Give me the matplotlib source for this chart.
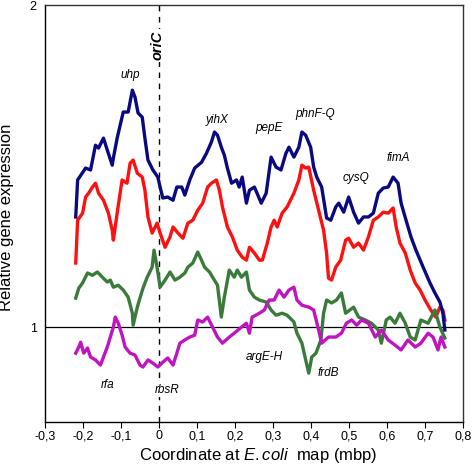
import matplotlib
matplotlib.use("Agg")
import matplotlib.pyplot as plt
import matplotlib.ticker as mticker

plt.rcParams['font.family'] = ['Liberation Sans', 'DejaVu Sans']
plt.rcParams['mathtext.fontset'] = 'custom'
plt.rcParams['mathtext.rm'] = 'Liberation Sans'
plt.rcParams['mathtext.it'] = 'Liberation Sans:italic'

# navy series
navy_x = [-0.219, -0.214, -0.193, -0.180, -0.167, -0.159, -0.146, -0.136, -0.123, -0.120,
          -0.110, -0.094, -0.081, -0.070, -0.063, -0.055, -0.044, -0.037, -0.029, -0.016,
          -0.003, 0.003, 0.010, 0.023, 0.037, 0.047, 0.060, 0.068, 0.081, 0.094,
          0.112, 0.125, 0.138, 0.146, 0.154, 0.164, 0.172, 0.180, 0.191, 0.204,
          0.211, 0.219, 0.230, 0.238, 0.251, 0.258, 0.269, 0.282, 0.295, 0.308,
          0.321, 0.334, 0.342, 0.355, 0.368, 0.376, 0.386, 0.399, 0.407, 0.415,
          0.428, 0.441, 0.452, 0.465, 0.473, 0.486, 0.499, 0.512, 0.525, 0.538,
          0.551, 0.564, 0.577, 0.590, 0.603, 0.616, 0.629, 0.637, 0.650, 0.663,
          0.676, 0.695, 0.713, 0.726, 0.739, 0.747, 0.752]
navy_y = [1.342, 1.457, 1.494, 1.488, 1.565, 1.556, 1.587, 1.550, 1.503, 1.525,
          1.587, 1.668, 1.668, 1.736, 1.714, 1.665, 1.652, 1.587, 1.519, 1.488,
          1.466, 1.435, 1.401, 1.404, 1.394, 1.435, 1.435, 1.410, 1.457, 1.494,
          1.512, 1.540, 1.575, 1.606, 1.596, 1.559, 1.534, 1.494, 1.447, 1.457,
          1.435, 1.466, 1.385, 1.425, 1.435, 1.416, 1.385, 1.416, 1.528, 1.497,
          1.488, 1.540, 1.559, 1.528, 1.559, 1.606, 1.596, 1.559, 1.497, 1.466,
          1.435, 1.339, 1.332, 1.373, 1.385, 1.357, 1.404, 1.357, 1.323, 1.342,
          1.342, 1.354, 1.416, 1.432, 1.435, 1.466, 1.447, 1.385, 1.332, 1.280,
          1.239, 1.186, 1.137, 1.106, 1.078, 1.043, 0.991]

# red series
red_x = [-0.219, -0.214, -0.201, -0.193, -0.185, -0.175, -0.167, -0.159, -0.146, -0.133,
         -0.123, -0.120, -0.110, -0.097, -0.084, -0.076, -0.068, -0.057, -0.044, -0.037,
         -0.029, -0.018, -0.005, 0.003, 0.016, 0.029, 0.037, 0.050, 0.063, 0.076,
         0.089, 0.102, 0.115, 0.128, 0.138, 0.151, 0.159, 0.167, 0.180, 0.193,
         0.206, 0.219, 0.230, 0.238, 0.251, 0.264, 0.272, 0.285, 0.295, 0.303,
         0.311, 0.324, 0.337, 0.355, 0.368, 0.376, 0.386, 0.394, 0.407, 0.420,
         0.433, 0.441, 0.446, 0.454, 0.465, 0.478, 0.491, 0.499, 0.512, 0.525,
         0.538, 0.551, 0.564, 0.577, 0.590, 0.603, 0.616, 0.624, 0.634, 0.648,
         0.661, 0.674, 0.687, 0.700, 0.715, 0.728, 0.739, 0.747, 0.752]
red_y = [1.199, 1.332, 1.354, 1.404, 1.416, 1.435, 1.447, 1.416, 1.394, 1.354,
         1.301, 1.270, 1.354, 1.457, 1.447, 1.509, 1.519, 1.478, 1.466, 1.425,
         1.342, 1.292, 1.323, 1.292, 1.248, 1.280, 1.311, 1.292, 1.276, 1.323,
         1.332, 1.363, 1.385, 1.435, 1.447, 1.457, 1.425, 1.373, 1.311, 1.280,
         1.239, 1.217, 1.208, 1.248, 1.230, 1.208, 1.208, 1.261, 1.311, 1.332,
         1.311, 1.354, 1.373, 1.416, 1.457, 1.503, 1.494, 1.497, 1.425, 1.363,
         1.301, 1.230, 1.152, 1.146, 1.186, 1.208, 1.270, 1.276, 1.248, 1.261,
         1.239, 1.280, 1.332, 1.342, 1.357, 1.354, 1.370, 1.311, 1.261, 1.230,
         1.177, 1.137, 1.115, 1.084, 1.053, 1.031, 1.062, 1.053, 1.022]

# green series
green_x = [-0.219, -0.211, -0.201, -0.188, -0.175, -0.162, -0.149, -0.136, -0.128, -0.120,
           -0.107, -0.094, -0.081, -0.070, -0.068, -0.057, -0.050, -0.042, -0.031, -0.018,
           -0.013, -0.005, 0.003, 0.016, 0.029, 0.042, 0.055, 0.068, 0.076, 0.089,
           0.102, 0.112, 0.120, 0.133, 0.141, 0.154, 0.164, 0.172, 0.185, 0.198,
           0.206, 0.217, 0.230, 0.238, 0.251, 0.264, 0.282, 0.295, 0.308, 0.324,
           0.337, 0.355, 0.363, 0.376, 0.386, 0.394, 0.402, 0.413, 0.426, 0.433,
           0.441, 0.454, 0.467, 0.480, 0.491, 0.512, 0.525, 0.543, 0.559, 0.577,
           0.585, 0.598, 0.608, 0.621, 0.634, 0.648, 0.661, 0.674, 0.689, 0.708,
           0.726, 0.739, 0.752]
green_y = [1.090, 1.121, 1.137, 1.168, 1.161, 1.171, 1.155, 1.140, 1.146, 1.124,
           1.130, 1.115, 1.093, 1.043, 1.006, 1.062, 1.090, 1.121, 1.155, 1.186,
           1.239, 1.186, 1.124, 1.146, 1.171, 1.146, 1.155, 1.168, 1.186, 1.199,
           1.233, 1.208, 1.186, 1.171, 1.155, 1.130, 1.031, 1.093, 1.177, 1.155,
           1.177, 1.155, 1.171, 1.115, 1.093, 1.084, 1.078, 1.053, 1.037, 1.043,
           1.037, 1.016, 0.981, 0.950, 0.898, 0.857, 0.907, 0.919, 0.960, 1.043,
           1.084, 1.075, 1.084, 1.106, 1.043, 1.062, 1.031, 1.022, 1.012, 0.991,
           0.950, 1.022, 1.031, 1.012, 1.043, 1.012, 0.969, 0.960, 1.022, 1.012,
           1.053, 1.000, 0.966]

# magenta series
mag_x = [-0.219, -0.211, -0.206, -0.198, -0.188, -0.180, -0.167, -0.154, -0.146, -0.136,
         -0.128, -0.120, -0.115, -0.107, -0.097, -0.089, -0.076, -0.063, -0.050, -0.042,
         -0.029, -0.016, -0.003, 0.010, 0.023, 0.037, 0.047, 0.055, 0.068, 0.081,
         0.094, 0.102, 0.115, 0.128, 0.141, 0.154, 0.167, 0.185, 0.198, 0.217,
         0.230, 0.238, 0.245, 0.264, 0.277, 0.290, 0.303, 0.316, 0.329, 0.342,
         0.355, 0.363, 0.376, 0.394, 0.407, 0.420, 0.428, 0.446, 0.465, 0.480,
         0.493, 0.507, 0.520, 0.533, 0.551, 0.569, 0.585, 0.603, 0.621, 0.637,
         0.655, 0.674, 0.689, 0.708, 0.721, 0.734, 0.742, 0.752]
mag_y = [0.919, 0.938, 0.953, 0.919, 0.935, 0.907, 0.898, 0.882, 0.907, 0.938,
         0.969, 1.000, 1.031, 1.012, 0.975, 0.938, 0.919, 0.913, 0.882, 0.876,
         0.898, 0.888, 0.876, 0.891, 0.904, 0.882, 0.919, 0.950, 0.960, 0.969,
         0.975, 1.022, 1.016, 1.031, 1.000, 0.969, 0.950, 0.969, 0.981, 1.000,
         1.012, 0.981, 1.031, 1.043, 1.053, 1.084, 1.084, 1.115, 1.093, 1.115,
         1.124, 1.084, 1.068, 1.062, 1.053, 0.991, 0.950, 0.969, 0.969, 0.981,
         1.012, 1.022, 1.006, 1.022, 1.012, 0.969, 0.991, 0.960, 0.944, 0.929,
         0.960, 0.938, 0.950, 0.981, 0.969, 0.929, 0.969, 0.938]

# gene labels
gene_names = ["uhp", "yihX", "pepE", "phnF-Q", "cysQ", "fimA", "rfa", "argE-H", "frdB"]
gene_x = [-0.075, 0.154, 0.289, 0.412, 0.519, 0.629, -0.136, 0.277, 0.446]
gene_y = [1.784, 1.643, 1.618, 1.661, 1.463, 1.524, 0.820, 0.907, 0.857]

xticks = [-0.3, -0.2, -0.1, 0, 0.1, 0.2, 0.3, 0.4, 0.5, 0.6, 0.7, 0.8]

fig = plt.figure(figsize=(4.73, 4.70), dpi=100)
ax = fig.add_axes([0.095, 0.102, 0.884, 0.887])

lw = 2.4
ax.plot(navy_x, navy_y, color='#0a0a80', lw=lw, zorder=4)
ax.plot(red_x, red_y, color='#ff1010', lw=lw, zorder=3)
ax.plot(green_x, green_y, color='#3a7a3a', lw=lw, zorder=3)
ax.plot(mag_x, mag_y, color='#c014c0', lw=lw, zorder=3)

ax.axhline(1.0, color='black', lw=0.9, zorder=2)
ax.axvline(0, color='black', lw=1.0, ls=(0, (4, 4)), zorder=1)

for name, gx, gy in zip(gene_names, gene_x, gene_y):
    ax.text(gx, gy, name, style='italic', fontsize=8.5, ha='center', va='center', zorder=5)

ax.text(-0.005, 1.875, "oriC", style='italic', fontweight='bold', fontsize=10.5,
        rotation=90, ha='center', va='center', zorder=5,
        bbox=dict(facecolor='white', edgecolor='none', pad=1))
ax.text(0.022, 0.805, "rbsR", style='italic', fontsize=8.5, ha='center', va='center', zorder=5,
        bbox=dict(facecolor='white', edgecolor='none', pad=0.5))

ax.set_xlim(-0.3, 0.8)
ax.set_ylim(0.705, 2.0)
ax.set_xticks(xticks)
ax.xaxis.set_major_formatter(mticker.FuncFormatter(lambda v, p: f"{v:.1f}".replace('.', ',').replace('-0,0', '0').replace('0,0', '0')))
ax.set_yticks([1, 2])
ax.set_yticklabels(["1", "2"])
ax.tick_params(axis='x', direction='out', length=4, labelsize=9, pad=2)
ax.tick_params(axis='y', length=0, labelsize=9, pad=6)
for s in ax.spines.values():
    s.set_linewidth(1.0)
ax.spines['top'].set_color('#333333')
ax.spines['right'].set_color('#333333')

ax.set_ylabel("Relative gene expression", fontsize=12, labelpad=9)
ax.yaxis.set_label_coords(-0.075, 0.49)
ax.set_xlabel("Coordinate at $\\mathit{E. coli}$  map (mbp)", fontsize=12, labelpad=2)
ax.xaxis.set_label_coords(0.51, -0.058)

fig.savefig("out.png", dpi=100)
